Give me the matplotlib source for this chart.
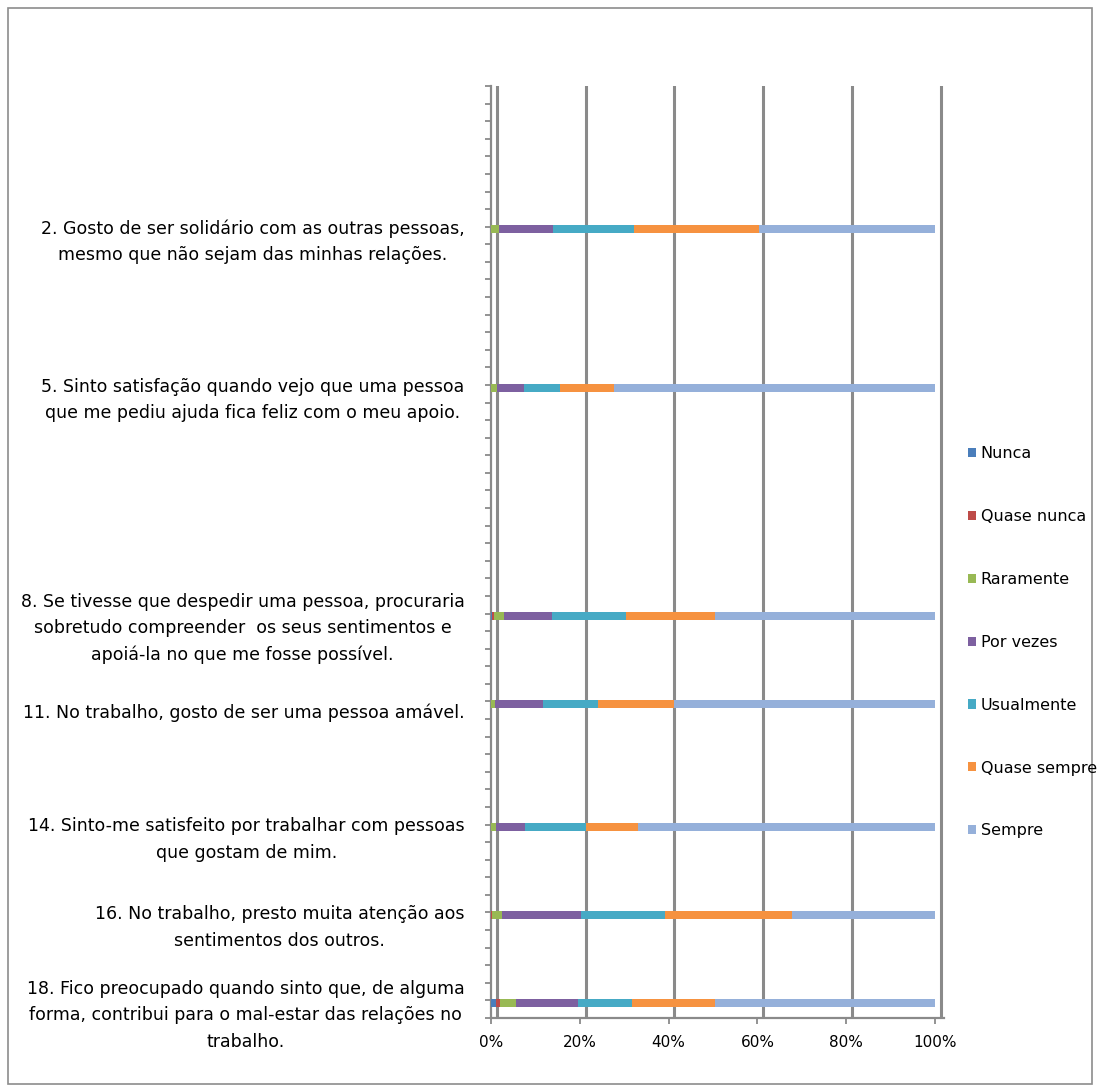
import matplotlib.pyplot as plt
import numpy as np
from matplotlib.patches import Patch, Rectangle

# perguntas (de cima para baixo), linhas vazias como no gráfico original
q2 = '2. Gosto de ser solidário com as outras pessoas,\nmesmo que não sejam das minhas relações.'
q5 = '5. Sinto satisfação quando vejo que uma pessoa\nque me pediu ajuda fica feliz com o meu apoio.'
q8 = ('8. Se tivesse que despedir uma pessoa, procuraria\nsobretudo compreender  os seus sentimentos e\n'
      'apoiá-la no que me fosse possível.')
q11 = '11. No trabalho, gosto de ser uma pessoa amável.'
q14 = '14. Sinto-me satisfeito por trabalhar com pessoas\nque gostam de mim.'
q16 = '16. No trabalho, presto muita atenção aos\nsentimentos dos outros.'
q18 = ('18. Fico preocupado quando sinto que, de alguma\nforma, contribui para o mal-estar das relações no\n'
       'trabalho.')

categories = ([''] * 8 + [q2] + [''] * 8 + [q5] + [''] * 12 + [q8] + [''] * 4 + [q11]
              + [''] * 6 + [q14] + [''] * 4 + [q16] + [''] * 4 + [q18])
questions = [q2, q5, q8, q11, q14, q16, q18]

# percentagens por resposta (mesma ordem de questions)
series = ['Nunca', 'Quase nunca', 'Raramente', 'Por vezes', 'Usualmente', 'Quase sempre', 'Sempre']
nunca = [0, 0, 0.3, 0, 0, 0, 1.2]
quase_nunca = [0, 0, 0.4, 0, 0, 0.3, 0.8]
raramente = [1.8, 1.4, 2.3, 1.0, 1.2, 2.2, 3.7]
por_vezes = [12.2, 6.0, 10.7, 10.6, 6.5, 17.8, 14.0]
usualmente = [18.3, 8.1, 16.7, 12.5, 13.8, 18.9, 12.0]
quase_sempre = [28.1, 12.2, 20.1, 17.1, 11.7, 28.5, 18.7]
sempre = [39.6, 72.3, 49.5, 58.8, 66.8, 32.3, 49.6]
values = [nunca, quase_nunca, raramente, por_vezes, usualmente, quase_sempre, sempre]

colors = ['#4A7EBB', '#BE4B48', '#98B954', '#7D60A0', '#46AAC5', '#F69240', '#95B0DA']
x_ticks = [0, 20, 40, 60, 80, 100]

GRID_SHIFT = 1.3   # parede de fundo do efeito 3D
BAR_SHIFT = 0.35
XMAX = 102
GRAY = '#8A8A8A'

plt.rcParams['font.family'] = ['DejaVu Sans']
fig = plt.figure(figsize=(10.98, 10.91), dpi=100)
ax = fig.add_axes([491 / 1098, 1 - 1018 / 1091, 4.44 * XMAX / 1098, (1018 - 86) / 1091])

n = len(categories)
y_of = {c: i for i, c in enumerate(categories) if c}
ys = np.array([y_of[q] for q in questions]) - BAR_SHIFT

# grelha vertical
for v in x_ticks:
    ax.axvline(v + GRID_SHIFT, color=GRAY, lw=2.2, zorder=1)

left = np.zeros(len(questions))
for name, vals, col in zip(series, values, colors):
    vals = np.array(vals)
    ax.barh(ys, vals, left=left, height=0.45, color=col, label=name, zorder=3,
            edgecolor='none')
    left += vals

ax.set_xlim(0, XMAX)
ax.set_ylim(n - 0.5, -0.5)
ax.set_xticks(x_ticks)
ax.set_xticklabels(['{}%'.format(v) for v in x_ticks], fontsize=11)
ax.set_yticks(range(n))
ax.set_yticklabels(categories, fontsize=12.5)
for lbl in ax.get_yticklabels():
    lbl.set_multialignment('center')
    lbl.set_linespacing(1.6)
ax.set_yticks(np.arange(n + 1) - 0.5, minor=True)
ax.tick_params(axis='y', which='major', length=0, pad=19)
ax.tick_params(axis='y', which='minor', length=4.5, width=1.3, color=GRAY, direction='out')
ax.tick_params(axis='x', length=4, width=1.3, color=GRAY, pad=8)

for s in ['top', 'right']:
    ax.spines[s].set_visible(False)
for s in ['left', 'bottom']:
    ax.spines[s].set_color(GRAY)
    ax.spines[s].set_linewidth(1.6)

# legenda
handles = [Patch(facecolor=c, edgecolor='none') for c in colors]
fig.legend(handles, series, loc='upper left', bbox_to_anchor=(968 / 1098, 1 - 446 / 1091),
           frameon=False, fontsize=11.5, handlelength=0.5, handleheight=0.5,
           handletextpad=0.3, labelspacing=3.0, borderpad=0, borderaxespad=0)

# moldura do gráfico
fig.patches.append(Rectangle((8 / 1098, 7 / 1091), 1084 / 1098, 1076 / 1091,
                             transform=fig.transFigure, fill=False,
                             edgecolor='#8C8C8C', lw=1.2))

fig.savefig('out.png', dpi=100)
